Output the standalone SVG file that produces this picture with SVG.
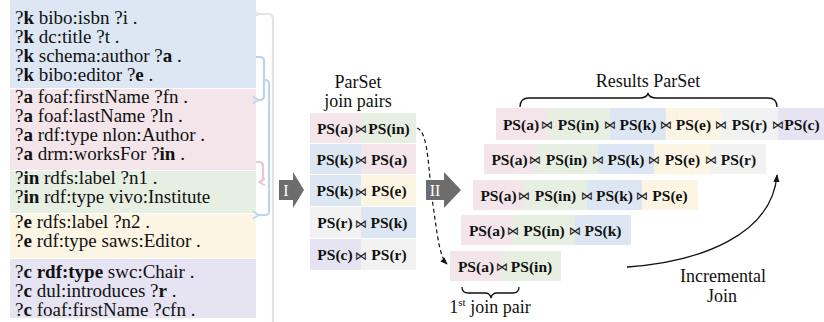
<svg xmlns="http://www.w3.org/2000/svg" width="824" height="322" viewBox="0 0 824 322" font-family="Liberation Serif, DejaVu Serif, serif">
<defs>
<style>
.q{font-family:"Liberation Serif","DejaVu Serif",serif;font-size:19px;fill:#111}
.b{font-weight:bold}
.ps{font-family:"Liberation Serif","DejaVu Serif",serif;font-size:15.5px;font-weight:bold;fill:#111;text-anchor:middle}
.bt{font-family:"DejaVu Sans",sans-serif;font-size:12px;fill:#222;text-anchor:middle}
.lbl{font-family:"Liberation Serif","DejaVu Serif",serif;font-size:18px;fill:#111;text-anchor:middle}
.cb{fill:#dce7f3}.cp{fill:#f3e5ea}.cg{fill:#e6efe2}.cy{fill:#fdf5e3}.cv{fill:#e6e3f2}.cr{fill:#f2f2f2}
.conn{fill:none;stroke-width:2.2;stroke-linejoin:round}
.arr{fill:#6d6d6d}
.at{font-family:"Liberation Serif","DejaVu Serif",serif;font-size:16px;fill:#fff;text-anchor:middle}
</style>
<marker id="mb" viewBox="0 0 10 10" refX="2" refY="5" markerWidth="4" markerHeight="4" orient="auto-start-reverse"><path d="M9,1 L2,5 L9,9" fill="none" stroke="#bcd5ee" stroke-width="2"/></marker>
<marker id="mp" viewBox="0 0 10 10" refX="2" refY="5" markerWidth="4" markerHeight="4" orient="auto-start-reverse"><path d="M9,1 L2,5 L9,9" fill="none" stroke="#e9c6d3" stroke-width="2"/></marker>
<marker id="mg" viewBox="0 0 10 10" refX="2" refY="5" markerWidth="4" markerHeight="4" orient="auto-start-reverse"><path d="M9,1 L2,5 L9,9" fill="none" stroke="#e3e3e3" stroke-width="2"/></marker>
<marker id="mk" viewBox="0 0 10 10" refX="9" refY="5" markerWidth="6" markerHeight="6" orient="auto"><path d="M0,1 L10,5 L0,9 Z" fill="#111"/></marker>
</defs>
<rect width="824" height="322" fill="#fff"/>

<g id="patterns">
<g id="block-k">
<rect class="cb" x="10" y="0" width="246" height="88"/>
<text class="q" x="15" y="24">?<tspan class="b">k</tspan> bibo:isbn ?i .</text>
<text class="q" x="15" y="43">?<tspan class="b">k</tspan> dc:title ?t .</text>
<text class="q" x="15" y="62">?<tspan class="b">k</tspan> schema:author ?<tspan class="b">a</tspan> .</text>
<text class="q" x="15" y="81">?<tspan class="b">k</tspan> bibo:editor ?<tspan class="b">e</tspan> .</text>
</g>
<g id="block-a">
<rect class="cp" x="10" y="89" width="246" height="81"/>
<text class="q" x="15" y="103">?<tspan class="b">a</tspan> foaf:firstName ?fn .</text>
<text class="q" x="15" y="122">?<tspan class="b">a</tspan> foaf:lastName ?ln .</text>
<text class="q" x="15" y="141">?<tspan class="b">a</tspan> rdf:type nlon:Author .</text>
<text class="q" x="15" y="160">?<tspan class="b">a</tspan> drm:worksFor ?<tspan class="b">in</tspan> .</text>
</g>
<g id="block-in">
<rect class="cg" x="10" y="171" width="246" height="42"/>
<text class="q" x="15" y="184">?<tspan class="b">in</tspan> rdfs:label ?n1 .</text>
<text class="q" x="15" y="203">?<tspan class="b">in</tspan> rdf:type vivo:Institute</text>
</g>
<g id="block-e">
<rect class="cy" x="10" y="214" width="246" height="44"/>
<text class="q" x="15" y="228">?<tspan class="b">e</tspan> rdfs:label ?n2 .</text>
<text class="q" x="15" y="247">?<tspan class="b">e</tspan> rdf:type saws:Editor .</text>
</g>
<g id="block-c">
<rect class="cv" x="10" y="259" width="246" height="59"/>
<text class="q" x="15" y="278">?<tspan class="b">c</tspan> <tspan class="b">rdf:type</tspan> swc:Chair .</text>
<text class="q" x="15" y="297">?<tspan class="b">c</tspan> dul:introduces ?<tspan class="b">r</tspan> .</text>
<text class="q" x="15" y="316">?<tspan class="b">c</tspan> foaf:firstName ?cfn .</text>
</g>
</g>

<g id="connectors">
<path class="conn" stroke="#e3e3e3" d="M273,322 L273,19 Q273,14 268,14 L259,14" marker-end="url(#mg)"/>
<path class="conn" stroke="#bcd5ee" d="M256,57 L260,57 Q264,57 264,61 L264,96 Q264,100 260,100 L259,100" marker-end="url(#mb)"/>
<path class="conn" stroke="#bcd5ee" d="M264,80 L265,80 Q269,80 269,84 L269,211 Q269,215 265,215 L259,215" marker-end="url(#mb)"/>
<path class="conn" stroke="#e9c6d3" d="M256,162 L259,162 Q263,162 263,166 L263,178 Q263,182 259,182 L259,182" marker-end="url(#mp)"/>
<path fill="none" stroke="#111" stroke-width="1.2" stroke-dasharray="4,3" d="M417,128 C429,132 428,172 433,205 C437,232 439,256 447,264" marker-end="url(#mk)"/>
<path fill="none" stroke="#111" stroke-width="1.3" d="M627,267 C700,262 772,235 777,175" marker-end="url(#mk)"/>
<path fill="none" stroke="#111" stroke-width="1.3" d="M520,107 Q520,98 529,98 L639,98 Q647,98 648,93 Q649,98 657,98 L768,98 Q777,98 777,107"/>
<path fill="none" stroke="#111" stroke-width="1.3" d="M462,287 Q462,293 468,293 L485,293 Q490,293 491,298 Q492,293 497,293 L513,293 Q519,293 519,287"/>
</g>

<g id="step-I">
<path class="arr" d="M279,180 L293,180 L293,172 L304,190 L293,208 L293,200 L279,200 Z"/>
<text class="at" x="286" y="196">I</text>
</g>
<g id="step-II">
<path class="arr" d="M426,180 L444,180 L444,172 L461,190 L444,208 L444,200 L426,200 Z"/>
<text class="at" x="435" y="196">II</text>
</g>

<g id="join-pairs">
<text class="lbl" x="358" y="88">ParSet</text>
<text class="lbl" x="358" y="107">join pairs</text>
<g id="jp1">
<rect class="cp" x="310" y="113" width="51" height="30"/><rect class="cg" x="361" y="113" width="55" height="30"/>
<text class="ps" x="335" y="133.5">PS(a)</text><text class="bt" x="361" y="133">⋈</text><text class="ps" x="389" y="133.5">PS(in)</text>
</g>
<g id="jp2">
<rect class="cb" x="310" y="144" width="51" height="30"/><rect class="cp" x="361" y="144" width="55" height="30"/>
<text class="ps" x="335" y="164.5">PS(k)</text><text class="bt" x="361" y="164">⋈</text><text class="ps" x="389" y="164.5">PS(a)</text>
</g>
<g id="jp3">
<rect class="cb" x="310" y="175" width="51" height="31"/><rect class="cy" x="361" y="175" width="55" height="31"/>
<text class="ps" x="335" y="196">PS(k)</text><text class="bt" x="361" y="195.5">⋈</text><text class="ps" x="389" y="196">PS(e)</text>
</g>
<g id="jp4">
<rect class="cr" x="310" y="207" width="51" height="31"/><rect class="cb" x="361" y="207" width="55" height="31"/>
<text class="ps" x="335" y="228">PS(r)</text><text class="bt" x="361" y="227.5">⋈</text><text class="ps" x="389" y="228">PS(k)</text>
</g>
<g id="jp5">
<rect class="cv" x="310" y="239" width="51" height="31"/><rect class="cr" x="361" y="239" width="55" height="31"/>
<text class="ps" x="335" y="260">PS(c)</text><text class="bt" x="361" y="259.5">⋈</text><text class="ps" x="389" y="260">PS(r)</text>
</g>
</g>

<g id="results">
<text class="lbl" x="648" y="87">Results ParSet</text>
<g id="r1">
<rect class="cp" x="496" y="108" width="51" height="32"/><rect class="cg" x="547" y="108" width="63" height="32"/><rect class="cb" x="610" y="108" width="56" height="32"/><rect class="cy" x="666" y="108" width="55" height="32"/><rect class="cr" x="721" y="108" width="57" height="32"/><rect class="cv" x="778" y="108" width="46" height="32"/>
<text class="ps" x="521" y="129.5">PS(a)</text><text class="bt" x="547" y="129">⋈</text>
<text class="ps" x="578.5" y="129.5">PS(in)</text><text class="bt" x="610" y="129">⋈</text>
<text class="ps" x="638" y="129.5">PS(k)</text><text class="bt" x="666" y="129">⋈</text>
<text class="ps" x="693.5" y="129.5">PS(e)</text><text class="bt" x="721" y="129">⋈</text>
<text class="ps" x="749.5" y="129.5">PS(r)</text><text class="bt" x="778" y="129">⋈</text>
<text class="ps" x="802" y="129.5">PS(c)</text>
</g>
<g id="r2">
<rect class="cp" x="484" y="144" width="51" height="30"/><rect class="cg" x="535" y="144" width="63" height="30"/><rect class="cb" x="598" y="144" width="56" height="30"/><rect class="cy" x="654" y="144" width="57" height="30"/><rect class="cr" x="711" y="144" width="55" height="30"/>
<text class="ps" x="509.5" y="164.5">PS(a)</text><text class="bt" x="535" y="164">⋈</text>
<text class="ps" x="566.5" y="164.5">PS(in)</text><text class="bt" x="598" y="164">⋈</text>
<text class="ps" x="626" y="164.5">PS(k)</text><text class="bt" x="654" y="164">⋈</text>
<text class="ps" x="682.5" y="164.5">PS(e)</text><text class="bt" x="711" y="164">⋈</text>
<text class="ps" x="738.5" y="164.5">PS(r)</text>
</g>
<g id="r3">
<rect class="cp" x="473" y="180" width="51" height="30"/><rect class="cg" x="524" y="180" width="63" height="30"/><rect class="cb" x="587" y="180" width="55" height="30"/><rect class="cy" x="642" y="180" width="56" height="30"/>
<text class="ps" x="498.5" y="200.5">PS(a)</text><text class="bt" x="524" y="200">⋈</text>
<text class="ps" x="555.5" y="200.5">PS(in)</text><text class="bt" x="587" y="200">⋈</text>
<text class="ps" x="614.5" y="200.5">PS(k)</text><text class="bt" x="642" y="200">⋈</text>
<text class="ps" x="670" y="200.5">PS(e)</text>
</g>
<g id="r4">
<rect class="cp" x="461" y="215" width="52" height="30"/><rect class="cg" x="513" y="215" width="62" height="30"/><rect class="cb" x="575" y="215" width="56" height="30"/>
<text class="ps" x="487" y="235.5">PS(a)</text><text class="bt" x="513" y="235">⋈</text>
<text class="ps" x="544" y="235.5">PS(in)</text><text class="bt" x="575" y="235">⋈</text>
<text class="ps" x="603" y="235.5">PS(k)</text>
</g>
<g id="r5">
<rect class="cp" x="450" y="251" width="52" height="30"/><rect class="cg" x="502" y="251" width="59" height="30"/>
<text class="ps" x="476" y="271.5">PS(a)</text><text class="bt" x="502" y="271">⋈</text>
<text class="ps" x="531.5" y="271.5">PS(in)</text>
</g>
<text class="lbl" x="490" y="313">1<tspan font-size="11" dy="-7">st</tspan><tspan dy="7"> join pair</tspan></text>
<text class="lbl" x="723" y="282">Incremental</text>
<text class="lbl" x="722" y="302">Join</text>
</g>
</svg>
